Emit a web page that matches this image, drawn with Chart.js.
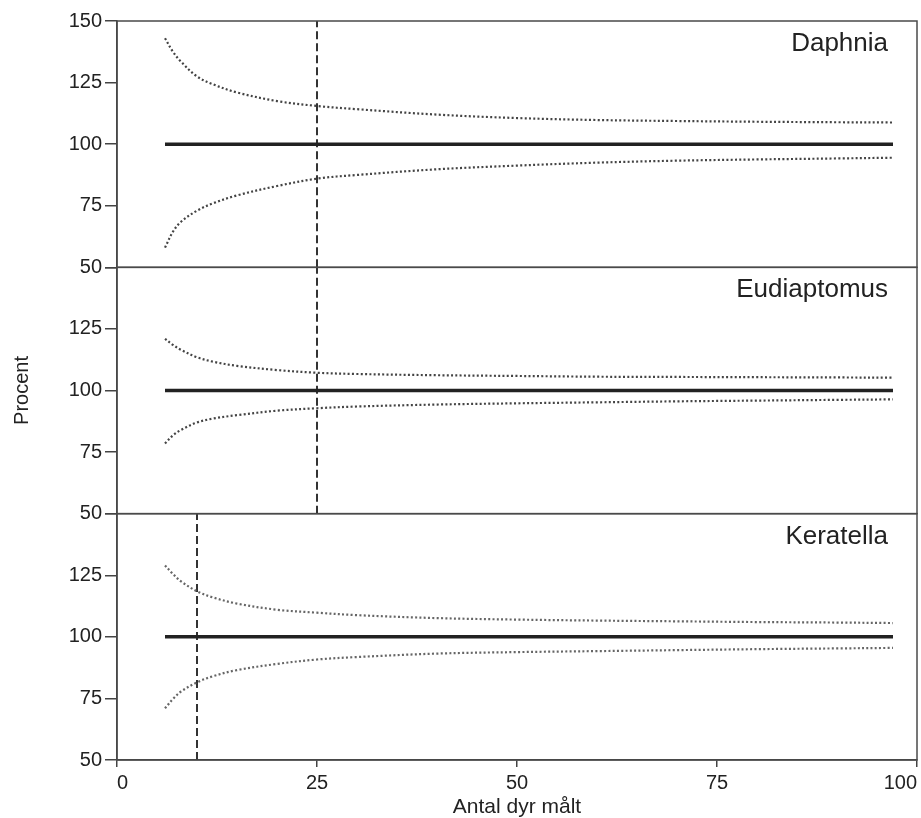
<!DOCTYPE html>
<html>
<head>
<meta charset="utf-8">
<script src="https://cdn.jsdelivr.net/npm/chart.js@4"></script>
<style>
  html, body { margin: 0; padding: 0; background: #fff; }
  #wrap { position: absolute; left: 0; top: 0; width: 921px; height: 818px; }
</style>
</head>
<body>
<div id="wrap"><canvas id="chart" width="921" height="818"></canvas></div>
<script>
// antal dyr målt (x)
const nValues = [6, 7, 8, 10, 12, 15, 20, 25, 30, 40, 50, 60, 70, 80, 90, 97];

// Daphnia
const daphniaUpper = [143, 137.5, 133.5, 127.5, 124.3, 121, 117.5, 115.5, 114.2, 112, 110.6, 109.8, 109.4, 109.1, 108.9, 108.8];
const daphniaLower = [58, 64.5, 68.5, 73, 76, 79.2, 83, 86, 87.5, 89.8, 91.3, 92.5, 93.3, 93.8, 94.2, 94.5];
const daphniaCut = 25;

// Eudiaptomus
const eudiaptomusUpper = [121, 118.5, 116.5, 113.5, 111.7, 110, 108.3, 107.2, 106.7, 106.2, 105.9, 105.6, 105.5, 105.4, 105.3, 105.2];
const eudiaptomusLower = [78.5, 81.8, 84, 87, 88.6, 90, 91.8, 92.8, 93.5, 94.3, 94.8, 95.2, 95.6, 95.9, 96.2, 96.4];
const eudiaptomusCut = 25;

// Keratella
const keratellaUpper = [129, 125.5, 122.5, 118.5, 116, 113.5, 111, 109.8, 108.8, 107.6, 107, 106.6, 106.3, 106, 105.8, 105.6];
const keratellaLower = [71, 74.8, 77.8, 81.5, 84, 86.5, 89, 90.8, 91.8, 93.2, 93.8, 94.2, 94.6, 95, 95.3, 95.5];
const keratellaCut = 10;

const meanLevel = 100;
const yTicks = [50, 75, 100, 125, 150];
const xTicks = [0, 25, 50, 75, 100];

const panels = [
  { id: 'yD', name: 'Daphnia', upper: daphniaUpper, lower: daphniaLower, cut: daphniaCut, dot: '#444444' },
  { id: 'yE', name: 'Eudiaptomus', upper: eudiaptomusUpper, lower: eudiaptomusLower, cut: eudiaptomusCut, dot: '#444444' },
  { id: 'yK', name: 'Keratella', upper: keratellaUpper, lower: keratellaLower, cut: keratellaCut, dot: '#666666' }
];

const toPoints = (ys) => nValues.map((n, i) => ({ x: n, y: ys[i] }));

const datasets = [];
panels.forEach(p => {
  datasets.push({
    label: p.name + ' øvre', data: toPoints(p.upper), yAxisID: p.id,
    borderColor: p.dot, borderWidth: 2.2, borderDash: [2, 2.3], tension: 0.35
  });
  datasets.push({
    label: p.name + ' nedre', data: toPoints(p.lower), yAxisID: p.id,
    borderColor: p.dot, borderWidth: 2.2, borderDash: [2, 2.3], tension: 0.35
  });
  datasets.push({
    label: p.name + ' middel', yAxisID: p.id,
    data: [{ x: nValues[0], y: meanLevel }, { x: nValues[nValues.length - 1], y: meanLevel }],
    borderColor: '#222', borderWidth: 3.5
  });
  datasets.push({
    label: p.name + ' grænse', yAxisID: p.id,
    data: [{ x: p.cut, y: yTicks[0] }, { x: p.cut, y: yTicks[yTicks.length - 1] }],
    borderColor: '#333', borderWidth: 2, borderDash: [8, 4]
  });
});

const axisColor = '#444';
const fontFamily = '"Liberation Sans", Arial, sans-serif';
const tickFont = { family: fontFamily, size: 20 };

function yAxis(showTop, title) {
  return {
    type: 'linear',
    position: 'left',
    stack: 'panels',
    min: yTicks[0],
    max: yTicks[yTicks.length - 1],
    afterBuildTicks: (s) => { s.ticks = yTicks.map(v => ({ value: v })); },
    afterFit: (s) => { s.width = 117; },
    ticks: {
      color: '#222',
      font: tickFont,
      padding: 3,
      callback: (v) => (v === yTicks[yTicks.length - 1] && !showTop) ? '' : v
    },
    grid: { drawOnChartArea: false, color: axisColor, lineWidth: 1.5, tickLength: 12 },
    border: { color: axisColor, width: 1.5 },
    title: {
      display: !!title, text: title || '', color: '#222',
      font: { family: fontFamily, size: 20, lineHeight: 1 },
      padding: { top: 12, bottom: 0 }
    }
  };
}

const panelPlugin = {
  id: 'panelPlugin',
  afterDraw(chart) {
    const { ctx, chartArea } = chart;
    ctx.save();
    ctx.strokeStyle = '#4a4a4a';
    ctx.lineWidth = 1.5;
    panels.forEach(p => {
      const s = chart.scales[p.id];
      ctx.strokeRect(chartArea.left, s.top, chartArea.right - chartArea.left, s.bottom - s.top);
      ctx.fillStyle = '#222';
      ctx.font = '26px ' + fontFamily;
      ctx.textAlign = 'right';
      ctx.textBaseline = 'alphabetic';
      ctx.fillText(p.name, chartArea.right - 29, s.top + 30);
    });
    ctx.restore();
  }
};

new Chart(document.getElementById('chart'), {
  type: 'scatter',
  data: { datasets },
  options: {
    responsive: false,
    animation: false,
    showLine: true,
    elements: { point: { radius: 0 }, line: { fill: false } },
    layout: { padding: { top: 21, right: 3, bottom: 0, left: 0 } },
    plugins: { legend: { display: false }, tooltip: { enabled: false } },
    scales: {
      x: {
        type: 'linear',
        min: xTicks[0],
        max: xTicks[xTicks.length - 1],
        afterBuildTicks: (s) => { s.ticks = xTicks.map(v => ({ value: v })); },
        afterFit: (s) => { s.height = 58; },
        ticks: { color: '#222', font: tickFont, padding: 4, align: 'inner', maxRotation: 0 },
        grid: { drawOnChartArea: false, color: axisColor, lineWidth: 1.5, tickLength: 7 },
        border: { color: axisColor, width: 1.5 },
        title: {
          display: true, text: 'Antal dyr målt', color: '#222',
          font: { family: fontFamily, size: 21, lineHeight: 1 },
          padding: { top: 0, bottom: 0 }
        }
      },
      // stacked panels: first listed is drawn at the bottom
      yK: yAxis(false, ''),
      yE: yAxis(false, 'Procent'),
      yD: yAxis(true, '')
    }
  },
  plugins: [panelPlugin]
});
</script>
</body>
</html>
